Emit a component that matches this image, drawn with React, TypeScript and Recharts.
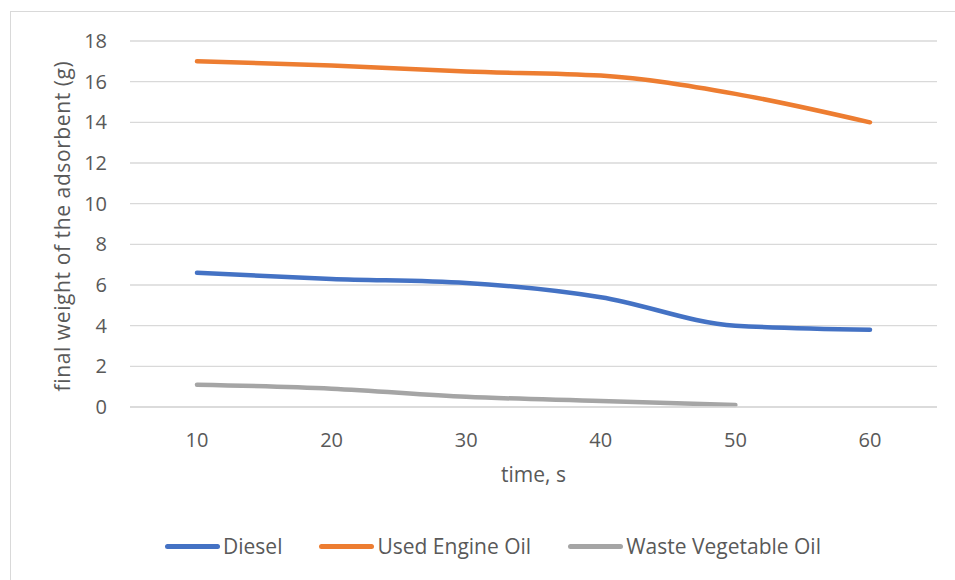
import React from "react";
import { CartesianGrid, Legend, Line, LineChart, XAxis, YAxis } from "recharts";

const times = ["10", "20", "30", "40", "50", "60"];
const diesel = [6.6, 6.3, 6.1, 5.4, 4.0, 3.8];
const usedEngineOil = [17.0, 16.8, 16.5, 16.3, 15.4, 14.0];
const wasteVegetableOil = [1.1, 0.9, 0.5, 0.3, 0.1, null];
const yTicks = [0, 2, 4, 6, 8, 10, 12, 14, 16, 18];

const series = [
  { key: "diesel", name: "Diesel", color: "#4472C4" },
  { key: "used", name: "Used Engine Oil", color: "#ED7D31" },
  { key: "waste", name: "Waste Vegetable Oil", color: "#A5A5A5" },
];

const data = times.map((t, i) => ({
  time: t,
  diesel: diesel[i],
  used: usedEngineOil[i],
  waste: wasteVegetableOil[i],
}));

const FONT = "'Open Sans', sans-serif";
const TEXT = "#595959";

function LegendRow() {
  return (
    <div style={{ height: 40, display: "flex", alignItems: "flex-start", paddingLeft: 165 }}>
      {series.map((s, i) => (
        <div
          key={s.key}
          style={{
            display: "flex",
            alignItems: "center",
            height: 12,
            marginRight: i < series.length - 1 ? 37 : 0,
          }}
        >
          <span
            style={{
              display: "inline-block",
              width: 55,
              height: 5,
              borderRadius: 3,
              background: s.color,
              marginRight: 3,
            }}
          />
          <span style={{ fontFamily: FONT, fontSize: 21, color: TEXT, lineHeight: "12px" }}>
            {s.name}
          </span>
        </div>
      ))}
    </div>
  );
}

export default function App() {
  return (
    <div
      style={{
        position: "absolute",
        left: 0,
        top: 0,
        width: 955,
        height: 580,
        background: "#fff",
        overflow: "hidden",
      }}
    >
      <div
        style={{
          position: "absolute",
          left: 10,
          top: 11,
          width: 980,
          height: 600,
          border: "1px solid #d9d9d9",
        }}
      />
      <LineChart
        width={955}
        height={580}
        data={data}
        margin={{ top: 41, right: 18, bottom: 0, left: 70 }}
      >
        <CartesianGrid vertical={false} stroke="#d9d9d9" strokeWidth={1.3} />
        <XAxis
          dataKey="time"
          height={133}
          padding={{ left: 67, right: 67 }}
          tickLine={false}
          axisLine={{ stroke: "#d9d9d9", strokeWidth: 1.3 }}
          tickMargin={20}
          tick={{ fill: TEXT, fontSize: 20, fontFamily: FONT }}
          label={{
            value: "time, s",
            position: "insideTop",
            offset: 60,
            fill: TEXT,
            fontSize: 21,
            fontFamily: FONT,
          }}
        />
        <YAxis
          width={60}
          domain={[0, 18]}
          ticks={yTicks}
          interval={0}
          tickLine={false}
          axisLine={false}
          tickMargin={17}
          tick={{ fill: TEXT, fontSize: 20, fontFamily: FONT }}
          label={{
            content: () => (
              <text
                x={62}
                y={226}
                transform="rotate(-90, 62, 226)"
                textAnchor="middle"
                dominantBaseline="central"
                fill={TEXT}
                fontSize={21}
                fontFamily={FONT}
                letterSpacing={0.6}
              >
                final weight of the adsorbent (g)
              </text>
            ),
          }}
        />
        <Legend
          verticalAlign="bottom"
          wrapperStyle={{ left: 0, width: 955 }}
          content={() => <LegendRow />}
        />
        {series.map((s) => (
          <Line
            key={s.key}
            type="monotone"
            dataKey={s.key}
            name={s.name}
            stroke={s.color}
            strokeWidth={4.5}
            strokeLinecap="round"
            dot={false}
            activeDot={false}
            isAnimationActive={false}
          />
        ))}
      </LineChart>
    </div>
  );
}
